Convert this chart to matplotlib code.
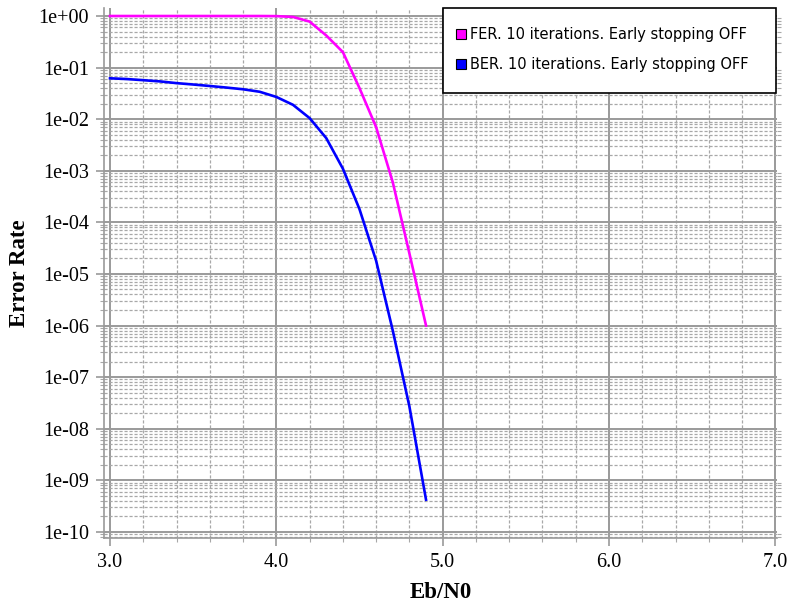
import numpy as np
import matplotlib
matplotlib.use("Agg")
import matplotlib.pyplot as plt
from matplotlib.ticker import FixedLocator, MultipleLocator, FuncFormatter, FormatStrFormatter, NullFormatter
from matplotlib.lines import Line2D
from matplotlib.patches import Rectangle

# Eb/N0 points (dB)
ebn0 = [3.0, 3.1, 3.2, 3.3, 3.4, 3.5, 3.6, 3.7, 3.8, 3.9,
        4.0, 4.1, 4.2, 4.3, 4.4, 4.5, 4.6, 4.7, 4.8, 4.9]

# frame error rate
fer = [1.0, 1.0, 1.0, 1.0, 1.0, 1.0, 1.0, 1.0, 1.0, 1.0,
       0.995, 0.96, 0.78, 0.42, 0.2, 0.04, 7.0e-3, 6.0e-4, 2.5e-5, 1.0e-6]

# bit error rate
ber = [0.062, 0.060, 0.057, 0.054, 0.050, 0.047, 0.044, 0.041, 0.038, 0.034,
       0.027, 0.019, 0.0105, 4.3e-3, 1.1e-3, 1.8e-4, 1.8e-5, 8.0e-7, 2.7e-8, 4.2e-10]

labels = ["FER. 10 iterations. Early stopping OFF",
          "BER. 10 iterations. Early stopping OFF"]
colors = ["#ff00ff", "#0000ff"]

x_major = [3.0, 4.0, 5.0, 6.0, 7.0]
y_major = [10.0 ** -k for k in range(0, 11)]

fig = plt.figure(figsize=(7.9, 6.05), dpi=100)
ax = fig.add_axes([104/790, 67/605, 673/790, 530/605])

ax.plot(ebn0, fer, color=colors[0], lw=1.9)
ax.plot(ebn0, ber, color=colors[1], lw=1.9)

ax.set_yscale("log")
ax.set_xlim(2.964, 7.01)
ax.set_ylim(7.6e-11, 1.43)

ax.xaxis.set_major_locator(FixedLocator(x_major))
ax.xaxis.set_minor_locator(MultipleLocator(0.2))
ax.xaxis.set_major_formatter(FormatStrFormatter("%.1f"))
ax.yaxis.set_major_locator(FixedLocator(y_major))
ax.yaxis.set_minor_locator(FixedLocator([m * 10.0 ** -k for k in range(1, 12) for m in range(2, 10)]))
ax.yaxis.set_major_formatter(FuncFormatter(lambda v, p: "%.0e" % v))
ax.yaxis.set_minor_formatter(NullFormatter())

ax.grid(which="major", color="#9a9a9a", lw=1.4, ls="-")
ax.grid(which="minor", color="#a8a8a8", lw=0.9, ls=(0, (2.5, 1.5)))
ax.set_axisbelow(True)

for s in ["top", "right"]:
    ax.spines[s].set_visible(False)
for s in ["left", "bottom"]:
    ax.spines[s].set_color("#9a9a9a")
    ax.spines[s].set_linewidth(1.2)

serif = "Liberation Serif"
ax.tick_params(which="major", direction="out", length=6, width=1.2, color="#9a9a9a",
               labelsize=14.5, pad=5)
ax.tick_params(which="minor", direction="out", length=3, width=0.8, color="#a8a8a8")
ax.tick_params(axis="y", which="minor", right=True)
for t in ax.get_xticklabels() + ax.get_yticklabels():
    t.set_fontfamily(serif)

ax.set_xlabel("Eb/N0", fontsize=16.5, fontweight="bold", fontfamily=serif, va="center")
ax.set_ylabel("Error Rate", fontsize=16.5, fontweight="bold", fontfamily=serif, va="center")
ax.xaxis.set_label_coords(0.5, -0.102)
ax.yaxis.set_label_coords(-0.126, 0.5)

# legend box drawn separately, entries placed inside it
box = Rectangle((0.504, 0.84), 0.4945, 0.16, transform=ax.transAxes, facecolor="white",
                edgecolor="black", lw=1.2, zorder=4.5, clip_on=False)
ax.add_patch(box)

handles = [Line2D([], [], ls="none", marker="s", markersize=7, markerfacecolor=c,
                  markeredgecolor="black", markeredgewidth=0.8) for c in colors]
leg = ax.legend(handles, labels, loc="upper left", bbox_to_anchor=(0.5235, 0.964),
                frameon=False, prop={"family": "DejaVu Sans", "size": 10.5},
                handlelength=0.7, handletextpad=0.22, labelspacing=1.0,
                borderpad=0, borderaxespad=0)
leg.set_zorder(6)

fig.savefig("out.png", dpi=100)
